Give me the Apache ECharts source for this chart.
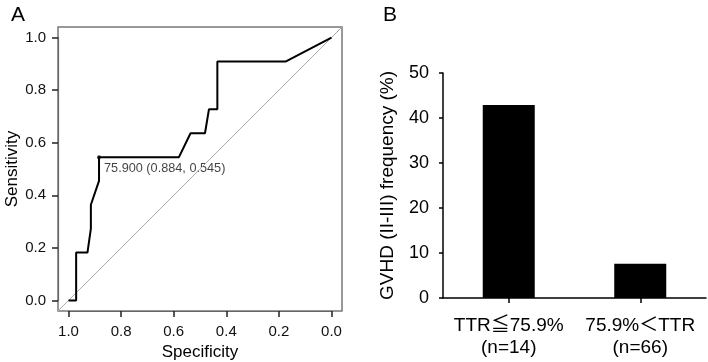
<!DOCTYPE html>
<html>
<head>
<meta charset="utf-8">
<script src="https://cdn.jsdelivr.net/npm/echarts@6/dist/echarts.min.js"></script>
<style>
  html, body { margin: 0; padding: 0; background: #fff; }
  #main { width: 708px; height: 362px; }
</style>
</head>
<body>
<div id="main"></div>
<script>
// panel A: ROC curve (specificity, sensitivity)
var rocSpec = [1.0, 0.971, 0.971, 0.928, 0.915, 0.915, 0.884, 0.884, 0.580, 0.536, 0.481, 0.466, 0.434, 0.434, 0.173, 0.0];
var rocSens = [0.0, 0.0, 0.182, 0.182, 0.273, 0.364, 0.455, 0.545, 0.545, 0.636, 0.636, 0.727, 0.727, 0.909, 0.909, 1.0];
var cutoff = { threshold: '75.900', spec: 0.884, sens: 0.545 };

// panel B: GVHD frequency by TTR group
var groups = ['TTR≦75.9%', '75.9%＜TTR'];
var groupN = [14, 66];
var freq = [42.9, 7.6];

var FONT = '"Liberation Sans", Arial, "Noto Sans CJK JP", sans-serif';

var rocData = rocSpec.map(function (s, i) { return [s, rocSens[i]]; });
var categories = groups.map(function (g, i) { return g + '\n(n=' + groupN[i] + ')'; });

// R-style plot box: 4% padding round [0, 1]
var pad = 0.04;
var box = { left: 58, top: 27, width: 284, height: 284 };
var kx = box.width / (1 + 2 * pad), ky = box.height / (1 + 2 * pad);
var inner = {
  left: box.left + pad * kx, top: box.top + pad * ky,
  width: kx, height: ky
};

var myChart = echarts.init(document.getElementById('main'));
var option = {
  animation: false,
  textStyle: { fontFamily: FONT, color: '#000' },
  title: [
    { text: 'A', left: 6, top: 0, textStyle: { fontFamily: FONT, fontSize: 21, fontWeight: 'normal', color: '#000' } },
    { text: 'B', left: 378, top: 0, textStyle: { fontFamily: FONT, fontSize: 21, fontWeight: 'normal', color: '#000' } }
  ],
  grid: [
    { left: box.left, top: box.top, width: box.width, height: box.height, outerBoundsMode: 'none',
      show: true, borderColor: '#777', borderWidth: 1.5, backgroundColor: 'transparent' },
    { left: inner.left, top: inner.top, width: inner.width, height: inner.height, outerBoundsMode: 'none' },
    { left: 443, top: 73, width: 263, height: 225, outerBoundsMode: 'none' }
  ],
  xAxis: [
    { gridIndex: 0, type: 'value', inverse: true, min: -pad, max: 1 + pad, show: false },
    {
      gridIndex: 1, type: 'value', inverse: true, min: 0, max: 1, interval: 0.2,
      offset: pad * ky,
      name: 'Specificity', nameLocation: 'middle', nameGap: 21,
      nameTextStyle: { fontFamily: FONT, fontSize: 17, color: '#000' },
      axisLine: { show: true, onZero: false, lineStyle: { color: '#666', width: 1.2 } },
      splitLine: { show: false },
      axisTick: { show: true, length: 6, lineStyle: { color: '#222', width: 1.5 } },
      axisLabel: { margin: 13, fontSize: 15, color: '#111', fontFamily: FONT,
        formatter: function (v) { return v.toFixed(1); } }
    },
    {
      gridIndex: 2, type: 'category', data: categories,
      axisLine: { show: true, lineStyle: { color: '#000', width: 1.5 } },
      axisTick: { show: true, alignWithLabel: true, length: 5, lineStyle: { color: '#000', width: 1.5 } },
      axisLabel: { interval: 0, margin: 17, fontSize: 19, lineHeight: 22, color: '#000', fontFamily: FONT }
    }
  ],
  yAxis: [
    { gridIndex: 0, type: 'value', min: -pad, max: 1 + pad, show: false },
    {
      gridIndex: 1, type: 'value', min: 0, max: 1, interval: 0.2,
      offset: pad * kx,
      name: 'Sensitivity', nameLocation: 'middle', nameGap: 30,
      nameTextStyle: { fontFamily: FONT, fontSize: 17, color: '#000' },
      axisLine: { show: true, onZero: false, lineStyle: { color: '#666', width: 1.2 } },
      splitLine: { show: false },
      axisTick: { show: true, length: 6, lineStyle: { color: '#222', width: 1.5 } },
      axisLabel: { margin: 12, fontSize: 15, color: '#111', fontFamily: FONT,
        formatter: function (v) { return v.toFixed(1); } }
    },
    {
      gridIndex: 2, type: 'value', min: 0, max: 50, interval: 10,
      name: 'GVHD (II-III) frequency (%)', nameLocation: 'middle', nameGap: 46,
      nameTextStyle: { fontFamily: FONT, fontSize: 19, color: '#000' },
      axisLine: { show: true, lineStyle: { color: '#000', width: 1.5 } },
      axisTick: { show: true, length: 4, lineStyle: { color: '#000', width: 1.5 } },
      splitLine: { show: false },
      axisLabel: { margin: 14, fontSize: 18, color: '#000', fontFamily: FONT }
    }
  ],
  series: [
    {
      type: 'line', xAxisIndex: 0, yAxisIndex: 0, silent: true,
      data: [[1 + pad, -pad], [-pad, 1 + pad]],
      symbol: 'none', lineStyle: { color: '#aaa', width: 1 }
    },
    {
      type: 'line', xAxisIndex: 0, yAxisIndex: 0,
      data: rocData, symbol: 'none',
      lineStyle: { color: '#000', width: 2 }
    },
    {
      type: 'scatter', xAxisIndex: 0, yAxisIndex: 0,
      data: [[cutoff.spec, cutoff.sens]],
      symbolSize: 4, itemStyle: { color: '#000' },
      label: {
        show: true, position: 'right', distance: 3, offset: [0, 11],
        fontSize: 12.7, color: '#111', fontFamily: FONT,
        formatter: function () {
          return cutoff.threshold + ' (' + cutoff.spec.toFixed(3) + ', ' + cutoff.sens.toFixed(3) + ')';
        }
      }
    },
    {
      type: 'bar', xAxisIndex: 2, yAxisIndex: 2,
      data: freq, barWidth: 52,
      itemStyle: { color: '#000' }
    }
  ]
};
myChart.setOption(option);
</script>
</body>
</html>
